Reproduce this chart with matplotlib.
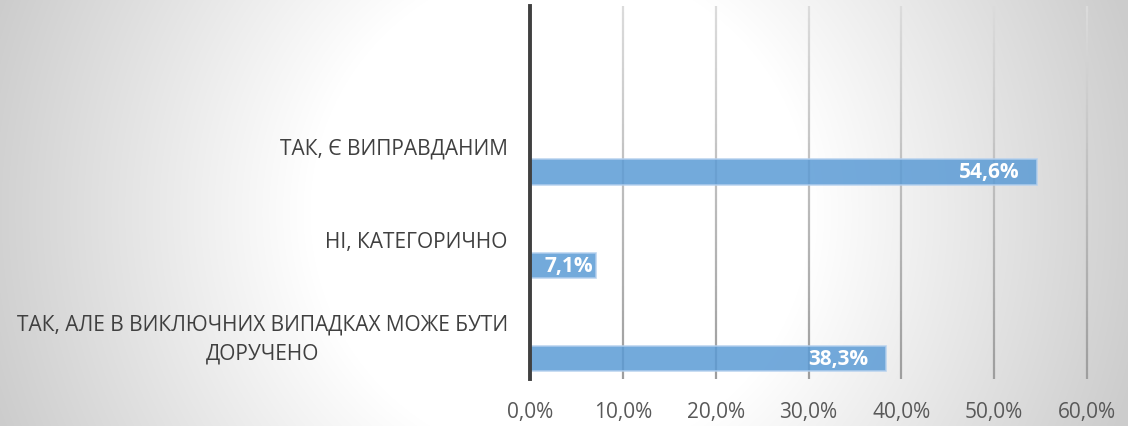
import numpy as np
import matplotlib
matplotlib.use('Agg')
import matplotlib.pyplot as plt
from matplotlib.collections import LineCollection

# data (bottom to top)
categories = ['ТАК, АЛЕ В ВИКЛЮЧНИХ ВИПАДКАХ МОЖЕ БУТИ\nДОРУЧЕНО',
              'НІ, КАТЕГОРИЧНО',
              'ТАК, Є ВИПРАВДАНИМ']
values = [38.3, 7.1, 54.6]
value_labels = ['38,3%', '7,1%', '54,6%']
x_ticks = [0, 10, 20, 30, 40, 50, 60]
x_tick_labels = ['0,0%', '10,0%', '20,0%', '30,0%', '40,0%', '50,0%', '60,0%']

plt.rcParams['font.family'] = ['Open Sans', 'DejaVu Sans']

W, H = 1128, 427
fig = plt.figure(figsize=(W / 100, H / 100), dpi=100)

# radial gradient background
bg = fig.add_axes([0, 0, 1, 1], zorder=-10)
yy, xx = np.mgrid[0:H, 0:W]
r = np.hypot(xx - 560, yy - 213)
t = np.clip((r - 250) / 350, 0, 1)
shade = 1 - t * (1 - 0.80)
bg.imshow(np.dstack([shade, shade, shade]), aspect='auto', extent=[0, 1, 0, 1], origin='upper')
bg.axis('off')

ax = fig.add_axes([530 / W, 1 - 380 / H, (1087 - 530) / W, (380 - 7) / H])
ax.patch.set_alpha(0)

y = np.arange(len(categories))
bar_off = -0.28
bars = ax.barh(y + bar_off, values, height=0.27, color='#5b9bd5', alpha=0.85,
               edgecolor='#b4d0ee', linewidth=1.2, zorder=3)

ax.set_xlim(0, 60)
ax.set_ylim(-0.5, 3.5)
ax.set_xticks(x_ticks)
ax.set_xticklabels(x_tick_labels, fontsize=15, color='#595959')
ax.set_yticks(y)
ax.set_yticklabels(categories, fontsize=15, color='#404040', linespacing=1.45,
                   multialignment='center')
ax.tick_params(length=0)
ax.tick_params(axis='x', pad=16)
ax.tick_params(axis='y', pad=16)

for s in ['top', 'right', 'bottom']:
    ax.spines[s].set_visible(False)
ax.spines['left'].set_linewidth(2.8)
ax.spines['left'].set_color('#404040')
ax.spines['left'].set_zorder(5)

# gridlines with vertical gradient
n = 60
ys = np.linspace(-0.5, 3.5, n + 1)
cols = np.linspace(0.62, 0.86, n)
for xt in x_ticks[1:]:
    segs = [[(xt, ys[i]), (xt, ys[i + 1])] for i in range(n)]
    lc = LineCollection(segs, colors=[(c, c, c) for c in cols], linewidths=1.6, zorder=1)
    lc.set_clip_on(False)
    ax.add_collection(lc)

for b, v, lab in zip(bars, values, value_labels):
    pad = 17 if v > 15 else 3
    ax.annotate(lab, (v, b.get_y() + b.get_height() / 2), xytext=(-pad, 0),
                textcoords='offset pixels', ha='right', va='center',
                color='white', fontsize=15, fontweight='bold', zorder=6)

fig.savefig('out.png', dpi=100)
